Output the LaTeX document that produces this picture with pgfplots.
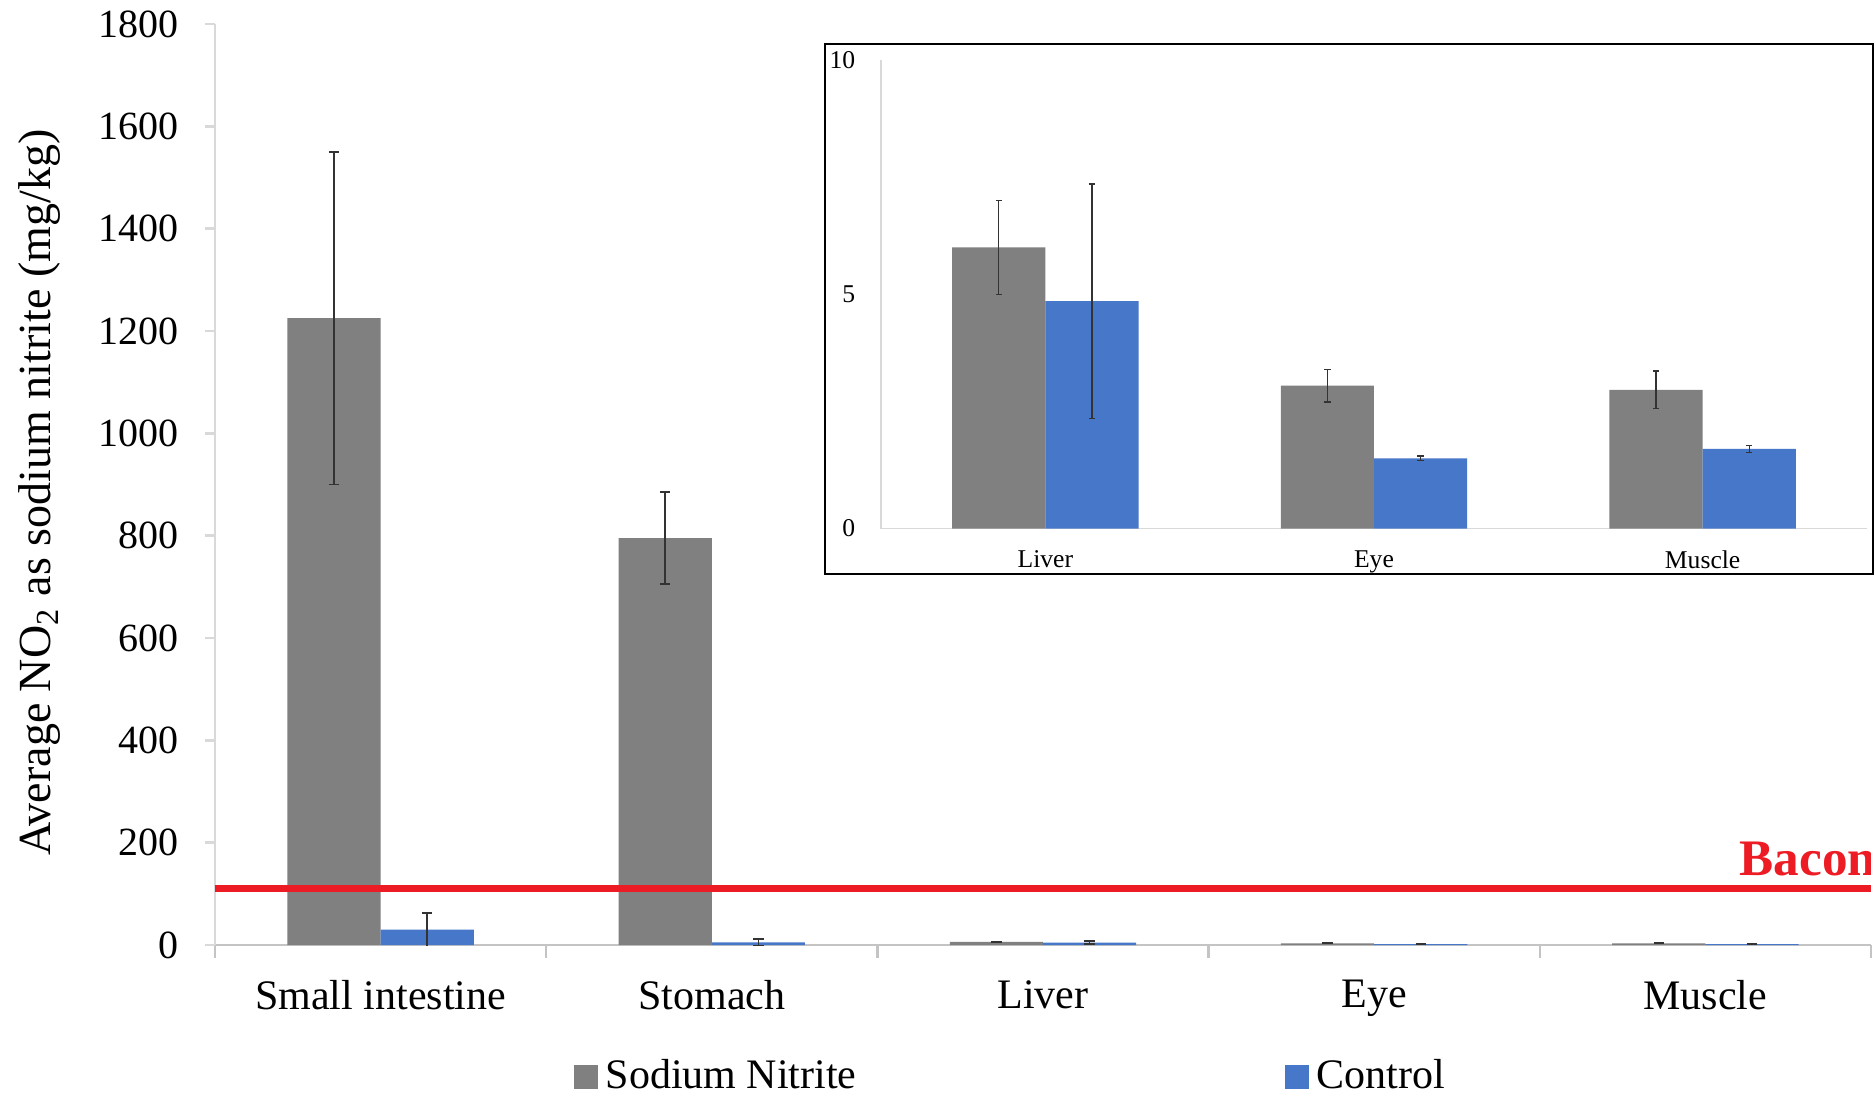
\documentclass[border=0pt]{standalone}
\usepackage{fontspec}
\setmainfont{Liberation Serif}
\usepackage{pgfplots}
\usepackage{pgfplotstable}
\pgfplotsset{compat=1.18}
\definecolor{nagray}{HTML}{808080}
\definecolor{ctblue}{HTML}{4677C8}
\definecolor{baconred}{HTML}{ED1C24}
\definecolor{axgray}{HTML}{C4C4C4}
\definecolor{axlight}{HTML}{D9D9D9}
\definecolor{errgray}{HTML}{333333}

\pgfplotstableread{
x y e
0 1225 325
1 795 90
2 6.0 1.0
3 3.05 0.35
4 2.96 0.4
}\mainNa
\pgfplotstableread{
x y e
0 30 33
1 5 7
2 4.85 2.5
3 1.5 0.05
4 1.7 0.08
}\mainCt
\pgfplotstableread{
x y e
0 6.0 1.0
1 3.05 0.35
2 2.96 0.4
}\insNa
\pgfplotstableread{
x y e
0 4.85 2.5
1 1.5 0.05
2 1.7 0.08
}\insCt

\begin{document}
\begin{tikzpicture}
\begin{axis}[
  at={(0pt,0pt)}, anchor=south west,
  scale only axis, width=414pt, height=230.25pt,
  xmin=-0.5, xmax=4.5, ymin=0, ymax=1800,
  axis x line*=bottom, axis y line*=left,
  x axis line style={-, axgray, line width=0.6pt},
  y axis line style={-, axlight, line width=0.6pt},
  ytick={0,200,...,1800},
  xtick={0,1,2,3,4},
  xticklabels={Small intestine,Stomach,Liver,Eye,Muscle},
  minor xtick={-0.5,0.5,1.5,2.5,3.5,4.5},
  major x tick style={draw=none},
  minor tick length=3.2pt,
  major tick length=2.5pt,
  tick align=outside,
  y tick style={axlight, line width=0.6pt},
  minor x tick style={axgray, line width=0.6pt},
  /pgf/number format/assume math mode=true,
  /pgf/number format/1000 sep={},
  yticklabel style={font=\fontsize{10}{12}\selectfont, xshift=-3pt},
  xticklabel style={font=\fontsize{10.5}{12.6}\selectfont, yshift=-2.8pt},
  ylabel={Average NO\textsubscript{2} as sodium nitrite (mg/kg)},
  ylabel style={font=\fontsize{11.5}{13.8}\selectfont, at={(axis description cs:-0.1057,0.491)}, anchor=center},
  legend columns=2,
  legend style={draw=none, fill=none, at={(axis description cs:0.4821,-0.143)}, anchor=center,
    font=\fontsize{10.5}{12.6}\selectfont,
    /tikz/every even column/.append style={column sep=105pt}},
]
\addplot[ybar, bar width=23.3pt, bar shift=0pt, fill=nagray, draw=none,
  legend image code/.code={\fill[nagray] (0pt,-3pt) rectangle (6pt,3pt);},
  error bars/.cd, y dir=both, y explicit,
  error bar style={errgray, line width=0.4pt},
  error mark options={errgray, line width=0.4pt, mark size=1.3pt, rotate=90}]
  table[x expr=\thisrow{x}-0.1407, y=y, y error=e] {\mainNa};
\addlegendentry{Sodium Nitrite}
\addplot[ybar, bar width=23.3pt, bar shift=0pt, fill=ctblue, draw=none,
  legend image code/.code={\fill[ctblue] (0pt,-3pt) rectangle (6pt,3pt);},
  error bars/.cd, y dir=both, y explicit,
  error bar style={errgray, line width=0.4pt},
  error mark options={errgray, line width=0.4pt, mark size=1.3pt, rotate=90}]
  table[x expr=\thisrow{x}+0.1407, y=y, y error=e] {\mainCt};
\addlegendentry{Control}
\addplot[baconred, line width=1.75pt, forget plot] coordinates {(-0.5,111) (4.5,111)};
\node[anchor=base west, text=baconred, inner sep=0pt, font=\bfseries\fontsize{12.8}{15}\selectfont] at (axis cs:4.101,136.8) {Bacon};
\end{axis}

\fill[white] (152.5pt,92.75pt) rectangle (414.5pt,225.25pt);
\draw[black, line width=0.6pt] (152.5pt,92.75pt) rectangle (414.5pt,225.25pt);

\begin{axis}[
  at={(166.5pt,104.1pt)}, anchor=south west,
  scale only axis, width=246.5pt, height=117.2pt,
  xmin=-0.5, xmax=2.5, ymin=0, ymax=10,
  axis x line*=bottom, axis y line*=left,
  x axis line style={-, axlight, line width=0.4pt},
  y axis line style={-, axlight, line width=0.4pt},
  ytick={0,5,10}, xtick={0,1,2},
  xticklabels={Liver,Eye,Muscle},
  tick style={draw=none},
  /pgf/number format/assume math mode=true,
  yticklabel style={font=\fontsize{6.4}{7.7}\selectfont, xshift=-2.9pt},
  xticklabel style={font=\fontsize{6.4}{7.7}\selectfont, yshift=-2pt},
]
\addplot[ybar, bar width=23.3pt, bar shift=0pt, fill=nagray, draw=none,
  error bars/.cd, y dir=both, y explicit,
  error bar style={errgray, line width=0.3pt},
  error mark options={errgray, line width=0.3pt, mark size=0.8pt, rotate=90}]
  table[x expr=\thisrow{x}-0.1418, y=y, y error=e] {\insNa};
\addplot[ybar, bar width=23.3pt, bar shift=0pt, fill=ctblue, draw=none,
  error bars/.cd, y dir=both, y explicit,
  error bar style={errgray, line width=0.3pt},
  error mark options={errgray, line width=0.3pt, mark size=0.8pt, rotate=90}]
  table[x expr=\thisrow{x}+0.1418, y=y, y error=e] {\insCt};
\end{axis}

\pgfresetboundingbox
\path[use as bounding box] (-53.75pt,-37pt) rectangle (415pt,236.25pt);
\end{tikzpicture}
\end{document}
